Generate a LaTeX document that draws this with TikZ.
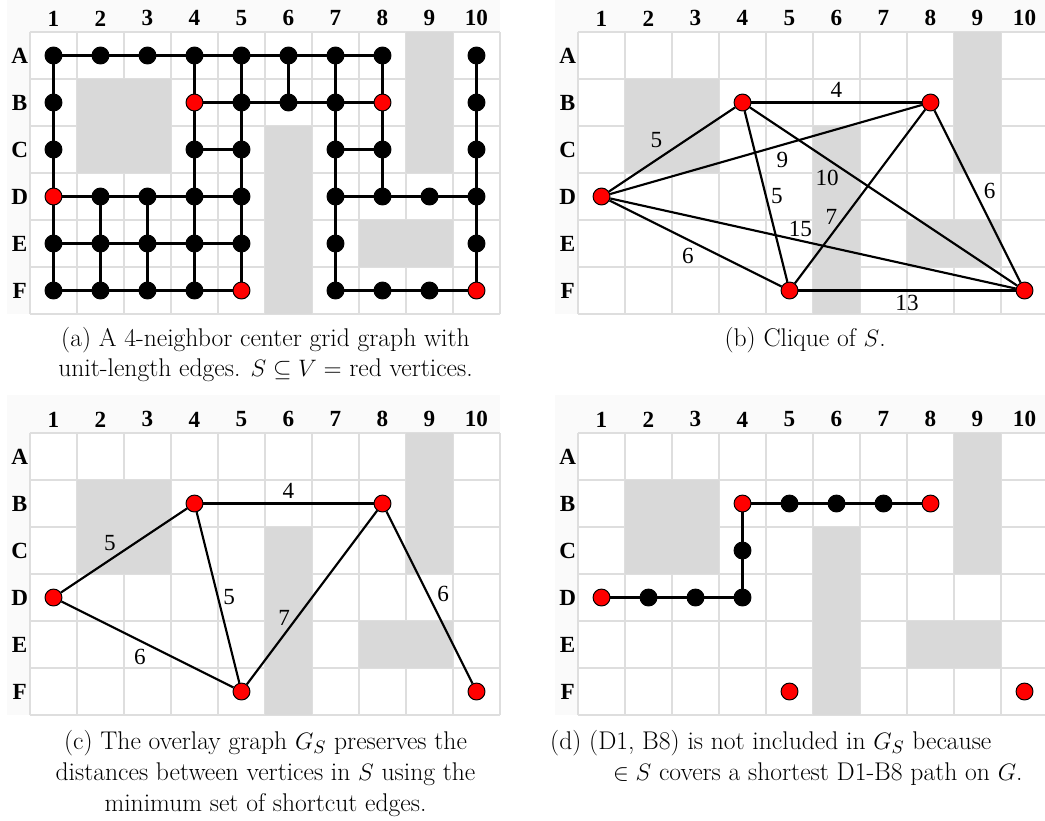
\documentclass[tikz,border=0pt]{standalone}
\usepackage{amsmath}
\usepackage{amssymb}
\usepackage{fontspec}
\usepackage{xcolor}
\usepackage{tikz}
\usetikzlibrary{positioning, calc}

\newfontfamily\timesfont{Liberation Serif}

\definecolor{blocked}{HTML}{D9D9D9}
\definecolor{gridgray}{HTML}{DEDEDE}
\definecolor{labelbg}{HTML}{FAFAFA}
\definecolor{sred}{HTML}{FF0000}

\tikzset{
  vtx/.style={circle, draw=black, fill=black, line width=0.6pt, inner sep=0pt, minimum size=0.36cm},
  svtx/.style={vtx, fill=sred},
  link/.style={line width=1.3pt},
  weight/.style={inner sep=0pt, font=\timesfont\fontsize{14}{14}\selectfont},
  hdr/.style={inner sep=0pt, font=\timesfont\bfseries\fontsize{14}{14}\selectfont},
  capt/.style={inner sep=0pt, anchor=base, font=\fontsize{15.5}{18}\selectfont},
}

% grid with blocked cells and the row/column labels
\newcommand{\board}[1]{%
  \fill[labelbg] (-0.49,0.81) rectangle (10,-6);
  \fill[white] (0,0) rectangle (10,-6);
  \draw[gridgray, line width=0.9pt] (0,0) grid (10,-6);
  \fill[blocked] (1,-1) rectangle (3,-3);
  \fill[blocked] (8,0) rectangle (9,-3);
  \fill[blocked] (5,-2) rectangle (6,-6);
  \fill[blocked] (7,-4) rectangle (9,-5);
  \foreach \c in {1,...,10}
    \node[hdr] (#1-col\c) at (\c-0.5,0.29) {\c};
  \foreach \r/\y in {A/0.5,B/1.5,C/2.5,D/3.5,E/4.5,F/5.5}
    \node[hdr] (#1-row\r) at (-0.22,-\y) {\r};
}

% the five vertices of S
\newcommand{\terminals}[1]{%
  \foreach \r/\y/\c in {B/1.5/4, B/1.5/8, D/3.5/1, F/5.5/5, F/5.5/10}
    \node[svtx] (#1-\r\c) at (\c-0.5,-\y) {};
}

\begin{document}
\begin{tikzpicture}
  \useasboundingbox (0,0) rectangle (22.234,-17.447);

  % (a) grid graph
  \begin{scope}[shift={(0.638,-0.681)}]
    \board{a}
    \foreach \r/\y/\cols in {A/0.5/{1,2,3,4,5,6,7,8,10}, B/1.5/{1,5,6,7,10},
        C/2.5/{1,4,5,7,8,10}, D/3.5/{2,3,4,5,7,8,9,10},
        E/4.5/{1,2,3,4,5,7,10}, F/5.5/{1,2,3,4,7,8,9}}
      \foreach \c in \cols
        \node[vtx] (a-\r\c) at (\c-0.5,-\y) {};
    \terminals{a}
    % horizontal edges
    \draw[link] (a-A1) -- (a-A2) -- (a-A3) -- (a-A4) -- (a-A5) -- (a-A6) -- (a-A7) -- (a-A8);
    \draw[link] (a-B4) -- (a-B5) -- (a-B6) -- (a-B7) -- (a-B8);
    \draw[link] (a-C4) -- (a-C5);
    \draw[link] (a-C7) -- (a-C8);
    \draw[link] (a-D1) -- (a-D2) -- (a-D3) -- (a-D4) -- (a-D5);
    \draw[link] (a-D7) -- (a-D8) -- (a-D9) -- (a-D10);
    \draw[link] (a-E1) -- (a-E2) -- (a-E3) -- (a-E4) -- (a-E5);
    \draw[link] (a-F1) -- (a-F2) -- (a-F3) -- (a-F4) -- (a-F5);
    \draw[link] (a-F7) -- (a-F8) -- (a-F9) -- (a-F10);
    % vertical edges
    \draw[link] (a-A1) -- (a-B1) -- (a-C1) -- (a-D1) -- (a-E1) -- (a-F1);
    \draw[link] (a-D2) -- (a-E2) -- (a-F2);
    \draw[link] (a-D3) -- (a-E3) -- (a-F3);
    \draw[link] (a-A4) -- (a-B4) -- (a-C4) -- (a-D4) -- (a-E4) -- (a-F4);
    \draw[link] (a-A5) -- (a-B5) -- (a-C5) -- (a-D5) -- (a-E5) -- (a-F5);
    \draw[link] (a-A6) -- (a-B6);
    \draw[link] (a-A7) -- (a-B7) -- (a-C7) -- (a-D7) -- (a-E7) -- (a-F7);
    \draw[link] (a-A8) -- (a-B8) -- (a-C8) -- (a-D8);
    \draw[link] (a-A10) -- (a-B10) -- (a-C10) -- (a-D10) -- (a-E10) -- (a-F10);
  \end{scope}

  % (b) clique of S
  \begin{scope}[shift={(12.298,-0.681)}]
    \board{b}
    \terminals{b}
    \foreach \u/\v in {D1/B4, D1/B8, D1/F5, D1/F10, B4/B8, B4/F5, B4/F10, B8/F5, B8/F10, F5/F10}
      \draw[link] (b-\u) -- (b-\v);
    % distances
    \node[weight] (b-w1) at ($(b-B4)!0.5!(b-B8)+(0,0.27)$) {4};
    \node[weight] (b-w2) at ($(b-D1)!0.39!(b-B4)+(0,0.42)$) {5};
    \node[weight] (b-w3) at ($(b-D1)!0.55!(b-B8)+(0,-0.32)$) {9};
    \node[weight] (b-w4) at ($(b-B4)!0.3!(b-F10)+(0,-0.4)$) {10};
    \node[weight] (b-w5) at ($(b-B4)!0.5!(b-F5)+(0.23,0)$) {5};
    \node[weight] (b-w6) at ($(b-B8)!0.47!(b-F10)+(0.32,0)$) {6};
    \node[weight] (b-w7) at ($(b-B8)!0.61!(b-F5)+(-0.28,0)$) {7};
    \node[weight] (b-w8) at ($(b-D1)!0.47!(b-F10)+(0,0.25)$) {15};
    \node[weight] (b-w9) at ($(b-D1)!0.46!(b-F5)+(0,-0.34)$) {6};
    \node[weight] (b-w10) at ($(b-F5)!0.5!(b-F10)+(0,-0.27)$) {13};
  \end{scope}

  % (c) overlay graph
  \begin{scope}[shift={(0.638,-9.213)}]
    \board{c}
    \terminals{c}
    \foreach \u/\v in {D1/B4, B4/B8, B4/F5, D1/F5, B8/F5, B8/F10}
      \draw[link] (c-\u) -- (c-\v);
    \node[weight] (c-w1) at ($(c-B4)!0.5!(c-B8)+(0,0.26)$) {4};
    \node[weight] (c-w2) at ($(c-D1)!0.4!(c-B4)+(0,0.36)$) {5};
    \node[weight] (c-w3) at ($(c-B4)!0.5!(c-F5)+(0.24,0)$) {5};
    \node[weight] (c-w4) at ($(c-B8)!0.61!(c-F5)+(-0.26,0)$) {7};
    \node[weight] (c-w5) at ($(c-B8)!0.48!(c-F10)+(0.33,0)$) {6};
    \node[weight] (c-w6) at ($(c-D1)!0.46!(c-F5)+(0,-0.34)$) {6};
  \end{scope}

  % (d) shortest D1-B8 path
  \begin{scope}[shift={(12.298,-9.213)}]
    \board{d}
    \foreach \r/\y/\c in {D/3.5/2, D/3.5/3, D/3.5/4, C/2.5/4, B/1.5/5, B/1.5/6, B/1.5/7}
      \node[vtx] (d-\r\c) at (\c-0.5,-\y) {};
    \terminals{d}
    \draw[link] (d-D1) -- (d-D2) -- (d-D3) -- (d-D4) -- (d-C4) -- (d-B4) -- (d-B5) -- (d-B6) -- (d-B7) -- (d-B8);
  \end{scope}

  % captions
  \node[capt] (cap-a1) at (5.649,-7.362) {(a) A 4-neighbor center grid graph with};
  \node[capt] (cap-a2) at (5.649,-8.021) {unit-length edges. $S \subseteq V =$ red vertices.};
  \node[capt] (cap-b) at (17.13,-7.362) {(b) Clique of $S$.};
  \node[capt] (cap-c1) at (5.649,-15.936) {(c) The overlay graph $G_S$ preserves the};
  \node[capt] (cap-c2) at (5.649,-16.596) {distances between vertices in $S$ using the};
  \node[capt] (cap-c3) at (5.649,-17.255) {minimum set of shortcut edges.};
  \node[capt, anchor=base west] (cap-d1) at (11.70,-15.936) {(d) (D1, B8) is not included in $G_S$ because};
  \node[capt] (cap-d2) at (17.40,-16.596) {$\in S$ covers a shortest D1-B8 path on $G$.};
\end{tikzpicture}
\end{document}
